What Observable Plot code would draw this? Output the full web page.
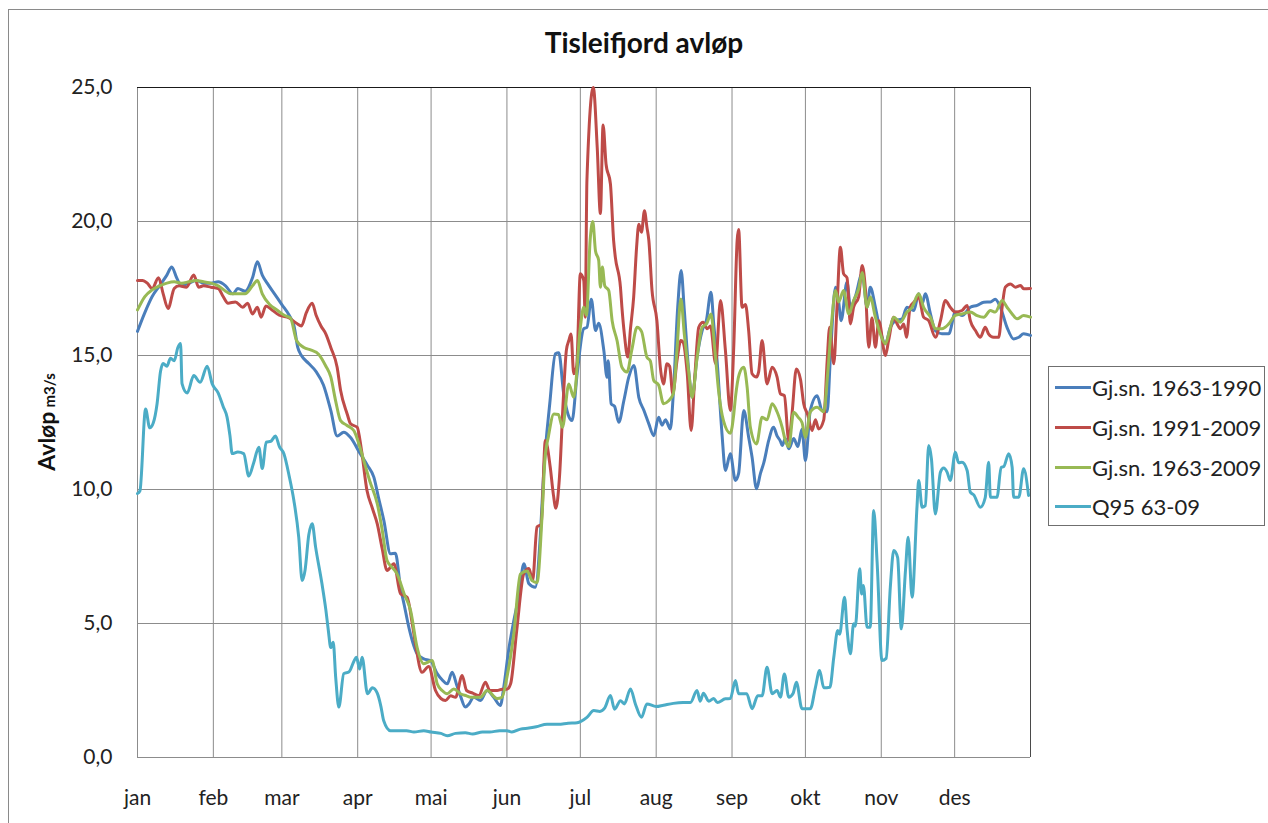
<!DOCTYPE html>
<html><head><meta charset="utf-8">
<script src="https://cdn.jsdelivr.net/npm/d3@7"></script>
<script src="https://cdn.jsdelivr.net/npm/@observablehq/plot@0.6"></script>
<style>
body{margin:0;background:#fff;font-family:Lato,sans-serif;overflow:hidden;}
#wrap{position:relative;width:1268px;height:823px;}
#frame{position:absolute;left:8px;top:9px;width:1300px;height:900px;border-left:1px solid #8a8a8a;border-top:1px solid #8a8a8a;}
#chart{position:absolute;left:0;top:0;}
#title{position:absolute;left:0;width:1288px;top:25px;text-align:center;font-weight:bold;font-size:28px;line-height:34px;color:#111;}
#ylab{position:absolute;left:46px;top:422px;transform:translate(-50%,-50%) rotate(-90deg);white-space:nowrap;color:#111;}
#ylab b{font-size:23px;}
#ylab span{font-size:15px;font-weight:bold;}
#legend{position:absolute;left:1048px;top:366px;width:217px;height:160px;border:1px solid #6f6f6f;box-sizing:border-box;}
.row{position:absolute;left:0;height:30px;}
.sw{position:absolute;left:6px;top:13px;width:36px;height:3px;}
.lt{position:absolute;left:43px;top:0;font-size:22px;line-height:30px;white-space:nowrap;color:#222;}
</style></head><body>
<div id="wrap">
 <div id="frame"></div>
 <div id="chart"></div>
 <div id="title">Tisleifjord avløp</div>
 <div id="ylab"><b>Avløp</b> <span>m3/s</span></div>
 <div id="legend"></div>
</div>
<script>
const months = ["jan","feb","mar","apr","mai","jun","jul","aug","sep","okt","nov","des"];
const monthStart = [0,31,59,90,120,151,181,212,243,273,304,334];
const yTicks = [0,5,10,15,20,25];
const seriesNames = ["Gj.sn. 1963-1990","Gj.sn. 1991-2009","Gj.sn. 1963-2009","Q95 63-09"];
const seriesColors = ["#4a7ebb","#be4b48","#98b954","#4bacc6"];

// [day of year, m3/s]
const gjsn6390 = [[0,15.9],[3,16.6],[6,17.2],[9,17.6],[12,18.0],[14,18.3],[16,17.9],[18,17.6],[21,17.7],[24,17.8],[27,17.7],[30,17.7],[33,17.75],[36,17.6],[39,17.3],[41,17.5],[44,17.4],[47,17.9],[49,18.5],[51,18.0],[53,17.7],[56,17.3],[59,16.9],[62,16.5],[64,16.1],[65.5,15.3],[67,15.0],[70,14.7],[73,14.4],[76,13.9],[79,12.95],[81.6,12.0],[84.3,12.14],[87,11.95],[91,11.34],[94,10.9],[96.6,10.46],[98.5,9.7],[100.7,8.84],[103.4,7.6],[105.4,7.62],[107.5,6.35],[109,5.7],[110.9,4.86],[112.5,4.3],[114.3,3.87],[117,3.68],[119.7,3.62],[122.5,3.13],[124.5,2.9],[126.6,2.75],[128.6,3.18],[130.5,2.7],[132,2.3],[134,1.88],[135.5,2.0],[137.4,2.25],[140.2,2.13],[142.9,2.5],[145.6,2.25],[148.3,1.94],[149.7,2.62],[151.7,4.0],[153.8,5.1],[156,6.1],[157.9,7.23],[160,6.48],[162.6,6.35],[164.7,8.35],[166,10.59],[168.5,13.2],[170.8,15.06],[172.2,15.1],[174.2,13.57],[176,12.8],[177.6,12.57],[179.7,14.32],[182.4,16.0],[183.7,16.05],[185.5,17.1],[187.2,15.93],[188.5,16.2],[190.6,15.19],[191.9,14.19],[192.4,14.8],[193.6,13.2],[195,13.1],[196.7,12.51],[198.8,13.32],[200.8,14.19],[202.9,14.63],[204.9,13.44],[207,12.95],[209,12.45],[211,12.01],[213,12.7],[214.4,12.4],[215.8,12.6],[217.8,12.26],[219,13.57],[220.8,16.8],[222.2,18.17],[223.5,16.68],[225.4,14.32],[226.7,13.44],[228.7,14.94],[230.8,15.93],[232.5,16.3],[234.4,17.36],[235.5,16.2],[236.9,14.81],[238.9,12.08],[240.3,10.71],[242.3,11.33],[244.4,10.34],[245.7,10.6],[247.8,12.95],[249.8,11.95],[251.2,11.2],[253,10.03],[254.6,10.59],[256,11.0],[258,11.83],[260,12.32],[261.4,12.0],[262.8,11.8],[263.5,11.64],[264.8,11.9],[266.2,11.52],[268.2,11.9],[269.9,11.6],[271.6,12.26],[273,11.08],[275,12.95],[277.8,13.5],[279.8,12.95],[281.9,12.9],[283.2,14.94],[285.3,17.55],[286.6,17.0],[287.6,16.3],[290,17.74],[291.4,16.8],[293.4,17.2],[296.2,18.05],[298.2,16.8],[299.5,17.55],[301.6,16.8],[303.6,15.93],[305.7,15.44],[307.7,16.05],[309.8,16.3],[312.5,16.37],[314.5,16.8],[317.3,16.68],[319.3,17.3],[320.7,16.93],[322,17.3],[324.1,16.55],[326.1,15.93],[328.8,15.81],[331.6,15.81],[334.3,16.62],[337,16.49],[340.4,16.8],[343.2,16.87],[345.9,16.99],[348.6,17.0],[350.6,17.1],[352.7,16.8],[355.4,16.05],[358.1,15.62],[360.2,15.68],[362.2,15.81],[365,15.75]];

const gjsn9109 = [[0,17.8],[2,17.8],[4,17.7],[6,17.5],[8.6,17.9],[10.5,17.3],[12.5,16.75],[15,17.5],[17,17.6],[20,17.55],[23,18.0],[25,17.55],[27,17.6],[30,17.55],[33,17.5],[35,17.2],[37,16.95],[40,17.0],[43,16.8],[45,16.95],[47,16.55],[49,16.8],[50.5,16.43],[52.5,16.85],[55,16.7],[58,16.5],[62,16.4],[65,16.2],[67,16.1],[69,16.6],[71.4,16.95],[73,16.5],[75,16.1],[77,15.8],[79,15.3],[81.6,14.56],[83,13.7],[85.7,12.82],[87.1,12.45],[89.8,12.32],[91.5,11.5],[93.8,9.96],[96,9.3],[98,8.72],[100,7.8],[102,6.98],[104.8,7.23],[107.5,6.11],[110.2,5.98],[112.3,5.0],[113.6,4.25],[116.3,3.18],[119,3.4],[121.8,2.5],[124,2.2],[125.9,2.13],[128,2.3],[130,2.25],[132.7,3.06],[134.5,2.5],[137,2.4],[139.5,2.31],[142.2,2.81],[144,2.5],[147,2.5],[149,2.55],[151,2.55],[152.5,2.75],[155,4.74],[157.9,6.86],[160,7.05],[161.5,6.6],[163.3,8.6],[165,8.7],[166.7,11.83],[168.7,10.83],[170,9.8],[171,9.3],[172.5,10.5],[174,13.3],[175.3,15.2],[176.3,15.56],[177.2,15.8],[178.3,14.32],[179.5,14.6],[181,18.05],[182.4,17.8],[183,16.43],[183.7,21.55],[186.3,25.0],[187.9,22.77],[189.2,20.3],[190.3,23.6],[191.5,22.15],[193.3,21.4],[194.6,19.3],[195.3,18.67],[197.4,17.55],[198,16.8],[199,15.8],[200.4,14.94],[201.5,16.0],[202.8,17.18],[204,19.04],[204.9,19.9],[206,19.6],[207.2,20.4],[208.2,19.8],[209,19.3],[210.3,17.43],[212.3,16.3],[213.7,14.56],[215,13.94],[216.4,14.69],[217.5,14.6],[218.8,13.57],[220.5,14.8],[222.1,15.56],[223,15.5],[224.7,14.32],[226.3,12.2],[227.7,14.07],[229.4,16.05],[231.2,16.24],[232.8,16.0],[234.2,16.1],[236.3,14.69],[238.3,17.05],[240.3,15.19],[242.3,12.95],[243.7,15.3],[245.1,19.3],[245.7,19.7],[247.1,16.8],[248.5,16.9],[249.8,15.93],[251.2,14.32],[253,14.2],[253.9,14.4],[255.3,15.56],[257.3,13.94],[259.4,14.56],[261.4,14.2],[262.8,13.57],[264.4,13.5],[266.2,11.83],[267.5,12.8],[269.3,14.5],[271,14.1],[272.3,13.2],[273.9,12.8],[275.7,12.2],[277.1,12.6],[278.4,12.26],[280.5,12.6],[281.9,14.81],[282.9,16.05],[284.6,14.69],[285.9,16.8],[287.3,19.04],[288.6,18.05],[290,17.9],[291.4,16.18],[292.7,16.8],[294.8,17.2],[296.2,18.36],[297.5,17.5],[298.9,15.31],[300.2,16.4],[301.6,15.31],[303,16.3],[305.7,15.0],[307,15.56],[309.1,16.43],[310.5,16.18],[311.8,16.0],[313.2,16.18],[314.3,15.68],[315.8,16.8],[318,17.05],[319.3,17.18],[321.3,16.43],[323.4,16.3],[326.1,15.68],[328.2,16.3],[330.2,17.05],[332.2,16.8],[334.3,16.62],[337,16.68],[339.1,16.87],[340.4,16.3],[342.5,15.93],[344.5,15.68],[346.5,16.05],[347.9,15.8],[349.9,15.68],[352,15.68],[353.4,16.8],[354.7,17.55],[356.8,17.67],[358.8,17.55],[360.9,17.61],[362.2,17.49],[365,17.5]];

const gjsn6309 = [[0,16.7],[3,17.2],[6,17.45],[9,17.6],[12,17.7],[15,17.75],[18,17.7],[21,17.75],[24,17.8],[27,17.75],[30,17.7],[33,17.6],[36,17.4],[38,17.3],[41,17.3],[44,17.3],[47,17.6],[49,17.8],[51,17.3],[54,16.9],[57,16.7],[60,16.5],[62.5,16.4],[65,15.56],[68,15.3],[71,15.2],[74,15.05],[77,14.6],[79,14.2],[81,13.3],[83,12.57],[85.5,12.4],[88.4,12.2],[90.5,11.7],[92.5,11.08],[95,10.3],[98,9.47],[100,8.5],[102,7.35],[104,7.1],[106.1,6.85],[109,6.1],[111.6,5.49],[114.3,4.1],[117,3.5],[120.4,3.62],[122.5,2.75],[124.5,2.5],[126.6,2.38],[129.3,2.56],[132,2.38],[134.5,2.3],[136.1,2.25],[140.2,2.25],[142.9,2.5],[147,2.2],[149,2.25],[151,3.0],[153.8,4.61],[156.5,6.84],[159.2,6.96],[161.3,6.6],[163.3,6.53],[165.4,9.1],[166.5,11.08],[168,12.0],[170.2,12.82],[172,12.8],[173.7,12.32],[176.3,13.94],[178.3,13.44],[181,16.05],[182.4,16.8],[183.5,16.5],[185,19.3],[186.1,20.0],[187.2,18.9],[188.5,18.55],[189.2,17.55],[190,18.3],[191,17.6],[192.6,17.43],[194,16.3],[196,15.56],[198,14.56],[200.1,14.38],[202,15.19],[204.2,16.05],[206,15.9],[208.2,14.94],[209.6,14.8],[211,14.07],[213,13.9],[215,13.2],[217,13.3],[219,13.57],[220.5,15.2],[222.1,17.11],[223.5,15.8],[225.4,14.32],[226.7,13.44],[228.7,14.9],[230.8,16.05],[232.7,16.2],[234.4,16.55],[236,15.19],[237.5,13.69],[239.5,12.57],[242.3,12.1],[243.7,12.8],[244.4,13.44],[246,14.32],[247.8,14.56],[249.2,13.8],[250.5,12.32],[253,11.7],[255.3,12.7],[257.3,12.6],[259.4,13.2],[261.4,12.9],[263.5,12.32],[264.8,11.83],[266.2,11.6],[268.2,12.88],[270,12.7],[271.6,12.5],[273,11.95],[275,12.9],[277.8,13.07],[280.5,12.9],[282.1,14.32],[283.9,16.43],[285.3,17.43],[286.6,17.0],[288.6,17.43],[290.7,16.55],[292.7,17.05],[294.8,17.5],[296.2,18.1],[298.2,16.8],[299.5,17.18],[301.6,16.43],[303.6,15.81],[305.7,15.44],[307.7,16.05],[309.1,16.43],[311.8,16.24],[314.5,16.62],[316.6,16.8],[319.3,17.3],[321.3,16.8],[324.1,16.43],[326.1,16.0],[328.8,16.0],[331.6,16.18],[334.3,16.5],[337,16.55],[340.4,16.62],[343.2,16.49],[345.9,16.43],[348.6,16.68],[350.6,16.62],[353.4,17.05],[355.4,16.8],[357.5,16.55],[359.5,16.37],[362.2,16.49],[365,16.43]];

const q95 = [[0,9.85],[1,9.95],[3.3,13.0],[5,12.3],[6.5,12.5],[8,13.2],[9.4,14.4],[10.5,14.7],[12,14.6],[13.5,14.9],[15,14.8],[16.5,15.3],[17.6,15.45],[18.2,13.95],[20.3,13.6],[23,14.25],[25.6,14.0],[28.5,14.6],[30.5,13.95],[33,13.6],[35,13.1],[36.6,12.7],[37.8,12.0],[38.7,11.34],[41,11.4],[43.4,11.34],[45.5,10.5],[47.5,11.0],[49.6,11.58],[51,10.78],[52.6,11.77],[54.5,11.8],[56.4,12.0],[58,11.6],[59.8,11.34],[62,10.5],[63.9,9.6],[65.9,8.22],[67.3,6.6],[68.5,7.0],[70,8.3],[71.4,8.72],[72.8,7.85],[75.4,6.48],[77,5.5],[78,4.74],[79,4.1],[80,4.3],[81,3.0],[82.3,1.88],[84.3,3.13],[86.5,3.2],[88.5,3.6],[89.5,3.74],[90.8,3.3],[91.8,3.74],[94,2.38],[96,2.6],[98,2.4],[99.5,1.9],[100.6,1.38],[103.4,1.0],[106,1.0],[110,1.0],[113,0.95],[117,1.0],[120,0.95],[124,0.9],[126.6,0.81],[130,0.9],[134,0.92],[137,0.88],[141,0.95],[144,0.95],[148,1.0],[151,1.0],[153,0.95],[156.5,1.06],[160,1.1],[163,1.15],[167.4,1.24],[172,1.24],[176,1.28],[179.7,1.3],[183.7,1.5],[186.5,1.75],[189,1.72],[191,1.85],[193.3,2.31],[195,1.8],[197.4,2.12],[199,2.0],[201.5,2.56],[203.5,2.0],[206,1.5],[208.2,2.0],[212,1.9],[215,1.95],[219,2.02],[223,2.05],[226,2.05],[228.7,2.5],[230,2.1],[231.3,2.4],[233.5,2.1],[235.5,2.2],[237,2.05],[240.3,2.19],[242.3,2.2],[244.4,2.87],[245.7,2.38],[249,2.38],[251.2,1.82],[253.5,2.3],[255.3,2.3],[257.3,3.37],[259.4,2.38],[261.4,2.5],[262.8,2.25],[264.4,3.12],[266.2,2.25],[268,2.4],[269.3,2.81],[271.6,1.82],[275,1.82],[277.1,2.62],[278.8,3.25],[280.5,2.6],[283,2.62],[284.6,3.74],[286.2,4.74],[287,4.6],[289,5.98],[290,4.8],[291.4,3.87],[292.7,4.99],[293.4,4.9],[295.2,7.04],[296,6.1],[296.7,6.42],[298.2,4.86],[299.5,4.86],[300.9,9.22],[302.3,7.3],[304.3,3.62],[306,3.7],[307.7,6.35],[309.1,7.72],[310.7,7.46],[312.2,4.8],[313.9,6.98],[315,8.22],[316.6,5.98],[318.6,9.34],[319.3,10.34],[320.7,9.34],[322,9.4],[323.4,11.64],[324.5,11.15],[326.1,9.09],[328.2,10.65],[329.5,10.8],[330.9,10.65],[332.2,10.34],[334.3,11.39],[335.6,11.0],[337,11.02],[339.1,10.71],[340.4,9.9],[341.8,9.8],[344.5,9.34],[346.5,9.7],[347.9,11.02],[348.6,9.71],[351.3,9.71],[353,10.83],[354,10.85],[356.1,11.33],[357.5,10.83],[358.1,9.71],[360.2,9.71],[362.2,10.77],[364.2,9.78]];

const allSeries = [gjsn6390, gjsn9109, gjsn6309, q95];
const data = [];
allSeries.forEach((arr, i) => arr.forEach(([day, value]) => data.push({day, value, series: seriesNames[i]})));

const fmt = d => d.toFixed(1).replace(".", ",");

const chart = Plot.plot({
  width: 1268, height: 823,
  marginLeft: 137, marginRight: 238, marginTop: 87, marginBottom: 66,
  style: {fontFamily: "Lato, sans-serif", fontSize: "21px", color: "#222", background: "transparent", overflow: "visible"},
  x: {domain: [0, 365], axis: null},
  y: {domain: [0, 25], axis: null},
  color: {domain: seriesNames, range: seriesColors},
  marks: [
    Plot.ruleX(monthStart.slice(1), {stroke: "#8c8c8c", strokeWidth: 1}),
    Plot.ruleY(yTicks.slice(1, 5), {stroke: "#8c8c8c", strokeWidth: 1}),
    Plot.ruleX([0], {stroke: "#8c8c8c"}),
    Plot.ruleY([0], {stroke: "#8c8c8c"}),
    Plot.ruleY([25], {stroke: "#1a1a1a"}),
    Plot.ruleX([365], {stroke: "#4a4a4a"}),
    Plot.line(data, {x: "day", y: "value", z: "series", stroke: "series", strokeWidth: 3, curve: "monotone-x", strokeLinejoin: "round"}),
    Plot.axisX(monthStart, {tickFormat: d => months[monthStart.indexOf(d)], tickSize: 0, tickPadding: 33, fontSize: 21, label: null}),
    Plot.axisY(yTicks, {tickFormat: fmt, tickSize: 0, tickPadding: 25, fontSize: 21, label: null})
  ]
});
document.getElementById("chart").appendChild(chart);

const legend = document.getElementById("legend");
const rowTops = [6, 46, 86, 125];
seriesNames.forEach((name, i) => {
  const row = document.createElement("div");
  row.className = "row";
  row.style.top = rowTops[i] + "px";
  const sw = document.createElement("div");
  sw.className = "sw";
  sw.style.background = seriesColors[i];
  const lt = document.createElement("div");
  lt.className = "lt";
  lt.textContent = name;
  row.appendChild(sw); row.appendChild(lt);
  legend.appendChild(row);
});
</script>
</body></html>
